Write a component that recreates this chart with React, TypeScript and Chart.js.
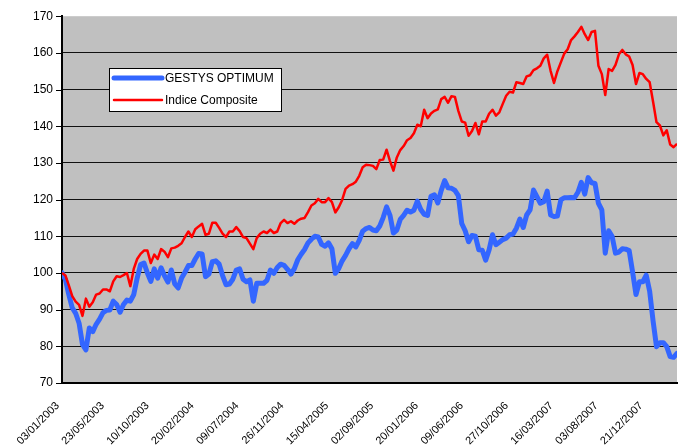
import { useEffect, useRef } from 'react';
import { Chart, registerables } from 'chart.js';

Chart.register(...registerables);

const FONT = 'Liberation Sans, Arial, sans-serif';

const seriesNames = ['GESTYS OPTIMUM', 'Indice Composite'];

// one tick label every 20 weekly observations
const tickLabels = [
  '03/01/2003', '23/05/2003', '10/10/2003', '20/02/2004', '09/07/2004', '26/11/2004', '15/04/2005',
  '02/09/2005', '20/01/2006', '09/06/2006', '27/10/2006', '16/03/2007', '03/08/2007', '21/12/2007',
];
const obsPerTick = 20;
const totalObs = 274; // observations spanned by the x axis

const gestys = [
  100, 98.2, 94.1, 90.5, 89, 86.3, 80.5, 79, 85, 84,
  86, 87.4, 89.2, 89.8, 89.9, 92.3, 91.4, 89.3, 91.4, 92.6,
  92.3, 94.1, 98.6, 102.3, 102.7, 100, 97.7, 101.1, 98.6, 101.4,
  99.2, 97.5, 100.8, 97, 95.9, 98.6, 100.2, 102, 102, 103.8,
  105.3, 105.2, 99, 99.7, 103.1, 103.3, 102.4, 99.3, 96.8, 97,
  98.3, 100.8, 101.1, 98.3, 97.6, 98.1, 92.3, 97.2, 97.2, 97.2,
  98, 100.8, 99.9, 101.5, 102.4, 102.1, 101, 99.7, 101.2, 103.6,
  105.1, 106.4, 108.2, 109.2, 110, 109.8, 107.8, 107.3, 108.2, 106.6,
  99.9, 101.2, 103.3, 104.8, 106.6, 108, 107.1, 108.9, 111.4, 112.1,
  112.4, 111.7, 111.5, 112.8, 115.1, 118, 115.7, 110.9, 111.7, 114.6,
  115.7, 117.1, 116.6, 117.1, 119.6, 117.3, 116, 115.7, 120.9, 121.3,
  119.1, 122.5, 125.2, 123.2, 123.1, 122.5, 121.1, 113.5, 111.5, 108.5,
  110.2, 110, 106.3, 106.2, 103.5, 106.3, 110.4, 107.7, 108.4, 109.1,
  109.5, 110.4, 110.6, 112.2, 114.7, 112.4, 115.8, 117.2, 122.6, 120.8,
  119, 119.4, 122.3, 115.8, 115.4, 115.5, 119.9, 120.5, 120.5, 120.6,
  120.5, 122, 124.7, 121.5, 126, 124.6, 124.4, 119, 117.2, 105.4,
  111.5, 110, 105.4, 105.7, 106.6, 106.5, 106.1, 100.3, 94.1, 97.6,
  97.6, 99.4, 95, 86.9, 79.9, 81, 81, 79.9, 77.2, 77,
  78.1,
];

const indice = [
  100, 99.3, 96.6, 93.7, 92.2, 91.3, 88.3, 93, 90.8, 92,
  94.1, 94.4, 95.5, 95.5, 95, 97.7, 99.1, 98.9, 99.4, 100,
  96.4, 101.1, 103.8, 105.2, 106.1, 106.1, 102.7, 105, 103.8, 106.5,
  105.8, 104.3, 106.7, 106.9, 107.4, 108.1, 109.8, 111.3, 109.8, 111.9,
  112.7, 113.4, 110.4, 110.7, 113.7, 113.7, 112.3, 110.7, 109.8, 111.3,
  111.3, 112.5, 111.4, 109.8, 109.5, 108, 106.5, 109.5, 110.7, 111.3,
  110.9, 111.8, 110.9, 111.3, 113.6, 114.5, 113.6, 114.1, 113.4, 114.3,
  114.8, 115, 116.6, 118.4, 119, 120.2, 119.3, 119.3, 120.4, 119.3,
  116.5, 117.9, 119.9, 122.9, 123.8, 124.2, 124.9, 126.5, 128.8, 129.5,
  129.4, 129.2, 128.3, 130.8, 130.9, 133.6, 130.5, 127.9, 131.5, 133.5,
  134.6, 136.2, 136.8, 138.1, 140.4, 140, 144.5, 142.2, 143.5, 144.2,
  144.6, 147.4, 148, 146.4, 148.2, 148, 144.2, 141.3, 141, 137.4,
  138.7, 140.9, 137.8, 141.3, 141.3, 143.4, 144.5, 142.9, 143.8, 146.1,
  148.3, 149.4, 149.2, 152, 151.8, 151.5, 153.6, 153.9, 155.3, 155.8,
  156.5, 158.5, 159.5, 155.1, 151.8, 155, 157.4, 159.8, 161, 163.5,
  164.5, 165.7, 167.1, 165.1, 163.5, 165.7, 166, 156.5, 154.2, 148.5,
  155.6, 155.1, 156.7, 159.6, 160.8, 159.6, 159, 156.7, 151.5, 154.5,
  154.2, 152.9, 152, 146.7, 141.1, 140.2, 137.5, 138.9, 135, 134.3,
  135.2,
];

// samples were read at evenly spaced observations across the axis
const toPoints = (vals: number[]) =>
  vals.map((y, i) => ({ x: (i * totalObs) / (vals.length - 1), y }));

const LABEL_TAIL = '  ';

const plotBackground = {
  id: 'plotBackground',
  beforeDraw(chart: any) {
    const { ctx, chartArea: a } = chart;
    ctx.save();
    ctx.fillStyle = '#C0C0C0';
    ctx.fillRect(a.left, a.top, a.right - a.left, a.bottom - a.top);
    ctx.restore();
  },
};

const yTickMarks = {
  id: 'yTickMarks',
  afterDraw(chart: any) {
    const { ctx } = chart;
    const s = chart.scales.y;
    ctx.save();
    ctx.strokeStyle = '#000';
    ctx.lineWidth = 1;
    s.ticks.forEach((t: any) => {
      const y = Math.round(s.getPixelForValue(t.value)) + 0.5;
      ctx.beginPath();
      ctx.moveTo(s.right - 6, y);
      ctx.lineTo(s.right, y);
      ctx.stroke();
    });
    ctx.restore();
  },
};

const boxLegend = {
  id: 'boxLegend',
  afterDraw(chart: any) {
    const { ctx } = chart;
    const left = 109.5, top = 68.5, w = 172, h = 43;
    ctx.save();
    ctx.fillStyle = '#FFFFFF';
    ctx.fillRect(left, top, w, h);
    ctx.strokeStyle = '#000';
    ctx.lineWidth = 1;
    ctx.strokeRect(left, top, w, h);
    const rows = [78, 100];
    chart.data.datasets.forEach((ds: any, i: number) => {
      const y = rows[i];
      ctx.beginPath();
      ctx.strokeStyle = ds.borderColor;
      ctx.lineWidth = ds.borderWidth;
      ctx.lineCap = 'round';
      ctx.moveTo(114, y);
      ctx.lineTo(162, y);
      ctx.stroke();
      ctx.fillStyle = '#000';
      ctx.font = `12px ${FONT}`;
      ctx.textBaseline = 'middle';
      ctx.textAlign = 'left';
      ctx.fillText(ds.label, 165, y + 1);
    });
    ctx.restore();
  },
};

export default function App() {
  const ref = useRef<HTMLCanvasElement>(null);

  useEffect(() => {
    if (!ref.current) return;
    const chart = new Chart(ref.current, {
      type: 'line',
      data: {
        datasets: [
          {
            label: seriesNames[0],
            data: toPoints(gestys),
            borderColor: '#3366FF',
            borderWidth: 5,
            borderJoinStyle: 'round',
            borderCapStyle: 'round',
            pointRadius: 0,
            tension: 0,
            fill: false,
            order: 1,
          },
          {
            label: seriesNames[1],
            data: toPoints(indice),
            borderColor: '#FF0000',
            borderWidth: 2.5,
            borderJoinStyle: 'round',
            pointRadius: 0,
            tension: 0,
            fill: false,
            order: 0,
          },
        ],
      },
      options: {
        responsive: false,
        animation: false,
        devicePixelRatio: 1,
        layout: { padding: { top: 14, right: 6, left: 0, bottom: 0 } },
        plugins: { legend: { display: false }, tooltip: { enabled: false } },
        scales: {
          x: {
            type: 'linear',
            min: 0,
            max: totalObs,
            afterBuildTicks: (s: any) => {
              s.ticks = tickLabels.map((_, k) => ({ value: k * obsPerTick }));
            },
            ticks: {
              autoSkip: false,
              minRotation: 45,
              maxRotation: 45,
              padding: 12,
              color: '#000',
              font: { family: FONT, size: 11 },
              callback: (v: any) => {
                const lbl = tickLabels[Math.round(Number(v) / obsPerTick)];
                return lbl ? lbl + LABEL_TAIL : '';
              },
            },
            grid: { display: false, drawTicks: false },
            border: { display: true, color: '#000', width: 2 },
            afterFit: (s: any) => {
              s.height = 65;
              s.paddingLeft = 0;
              s.paddingRight = 0;
            },
          },
          y: {
            min: 70,
            max: 170,
            ticks: {
              stepSize: 10,
              padding: 9,
              color: '#000',
              font: { family: FONT, size: 12 },
            },
            grid: {
              drawTicks: false,
              lineWidth: 1,
              color: (c: any) =>
                c.tick && (c.tick.value === 170 || c.tick.value === 70) ? 'rgba(0,0,0,0)' : '#111',
            },
            border: { display: true, color: '#000', width: 2 },
            afterFit: (s: any) => {
              s.width = 62;
            },
          },
        },
      },
      plugins: [plotBackground, yTickMarks, boxLegend],
    });
    return () => chart.destroy();
  }, []);

  return (
    <div style={{ position: 'fixed', left: 0, top: 0, width: 683, height: 448, background: '#fff' }}>
      <canvas ref={ref} width={683} height={448} style={{ display: 'block' }} />
    </div>
  );
}
